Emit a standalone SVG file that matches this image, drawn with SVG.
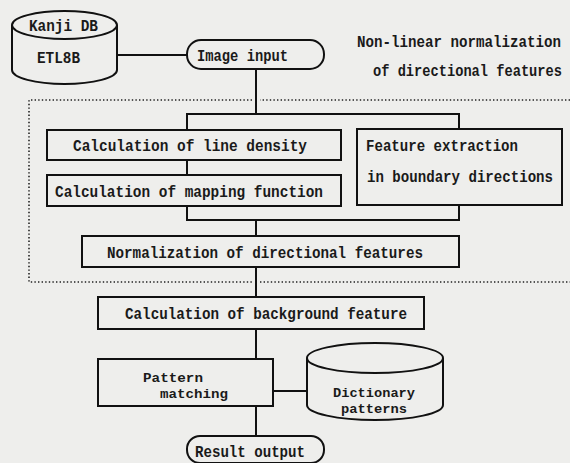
<svg xmlns="http://www.w3.org/2000/svg" width="570" height="463" viewBox="0 0 570 463">
<style>
.bg{fill:#eeeeec}
.box{fill:#eeeeec;stroke:#111;stroke-width:2}
.ln{fill:none;stroke:#111;stroke-width:2}
.dot{fill:none;stroke:#222;stroke-width:1.6;stroke-dasharray:1.4 2.2}
text{font-family:"Liberation Mono","DejaVu Sans Mono",monospace;font-size:14.4px;font-weight:bold;fill:#1a1a1a}
.sm{font-size:13.5px}
.edge{font-size:14px}
</style>
<rect class="bg" x="0" y="0" width="570" height="463"/>
<g id="connectors">
<line class="ln" x1="117" y1="55" x2="187" y2="55"/>
<line class="ln" x1="256" y1="69" x2="256" y2="114"/>
<path class="ln" d="M187 114 H459 V220 H187 Z"/>
<line class="ln" x1="256" y1="220" x2="256" y2="236"/>
<line class="ln" x1="256" y1="267" x2="256" y2="297"/>
<line class="ln" x1="256" y1="329" x2="256" y2="359"/>
<line class="ln" x1="256" y1="406" x2="256" y2="436"/>
<line class="ln" x1="273" y1="391" x2="307" y2="391"/>
</g>
<g id="region">
<path class="dot" d="M570 100 H260 M252 100 H29 V282 H252 M260 282 H570"/>
<text class="edge" transform="translate(357 47) scale(1 1.2)" textLength="204" lengthAdjust="spacingAndGlyphs">Non-linear normalization</text>
<text class="edge" transform="translate(373 76) scale(1 1.2)" textLength="189" lengthAdjust="spacingAndGlyphs">of directional features</text>
</g>
<g id="kanji-db">
<path class="box" d="M12 25 V70 A52.5 14 0 0 0 117 70 V25"/>
<ellipse class="box" cx="64.5" cy="25" rx="52.5" ry="14"/>
<text transform="translate(29 31) scale(1 1.2)" textLength="69" lengthAdjust="spacingAndGlyphs">Kanji DB</text>
<text transform="translate(37 63) scale(1 1.2)" textLength="43" lengthAdjust="spacingAndGlyphs">ETL8B</text>
</g>
<g id="image-input">
<rect class="box" x="187" y="40" width="137" height="29" rx="14"/>
<text transform="translate(197 61) scale(1 1.2)" textLength="91" lengthAdjust="spacingAndGlyphs">Image input</text>
</g>
<g id="line-density">
<rect class="box" x="47" y="130" width="294" height="30"/>
<text transform="translate(73 151) scale(1 1.2)" textLength="234" lengthAdjust="spacingAndGlyphs">Calculation of line density</text>
</g>
<g id="mapping-function">
<rect class="box" x="47" y="175" width="294" height="31"/>
<text transform="translate(55 197) scale(1 1.2)" textLength="268" lengthAdjust="spacingAndGlyphs">Calculation of mapping function</text>
</g>
<g id="feature-extraction">
<rect class="box" x="357" y="129" width="205" height="76"/>
<text transform="translate(366 151) scale(1 1.2)" textLength="152" lengthAdjust="spacingAndGlyphs">Feature extraction</text>
<text transform="translate(367 182) scale(1 1.2)" textLength="186" lengthAdjust="spacingAndGlyphs">in boundary directions</text>
</g>
<g id="normalization">
<rect class="box" x="82" y="236" width="377" height="31"/>
<text transform="translate(107 258) scale(1 1.2)" textLength="316" lengthAdjust="spacingAndGlyphs">Normalization of directional features</text>
</g>
<g id="background-feature">
<rect class="box" x="98" y="297" width="326" height="32"/>
<text transform="translate(125 319) scale(1 1.2)" textLength="282" lengthAdjust="spacingAndGlyphs">Calculation of background feature</text>
</g>
<g id="pattern-matching">
<rect class="box" x="98" y="359" width="175" height="47"/>
<text class="sm" x="143" y="382" textLength="60" lengthAdjust="spacingAndGlyphs">Pattern</text>
<text class="sm" x="160" y="398" textLength="68" lengthAdjust="spacingAndGlyphs">matching</text>
</g>
<g id="dictionary">
<path class="box" d="M307 358 V405 A68 15 0 0 0 443 405 V358"/>
<ellipse class="box" cx="375" cy="358" rx="68" ry="15"/>
<text class="sm" x="333" y="397" textLength="82" lengthAdjust="spacingAndGlyphs">Dictionary</text>
<text class="sm" x="341" y="413" textLength="66" lengthAdjust="spacingAndGlyphs">patterns</text>
</g>
<g id="result-output">
<rect class="box" x="187" y="436" width="137" height="27" rx="13"/>
<text transform="translate(195 457) scale(1 1.2)" textLength="110" lengthAdjust="spacingAndGlyphs">Result output</text>
</g>
</svg>
